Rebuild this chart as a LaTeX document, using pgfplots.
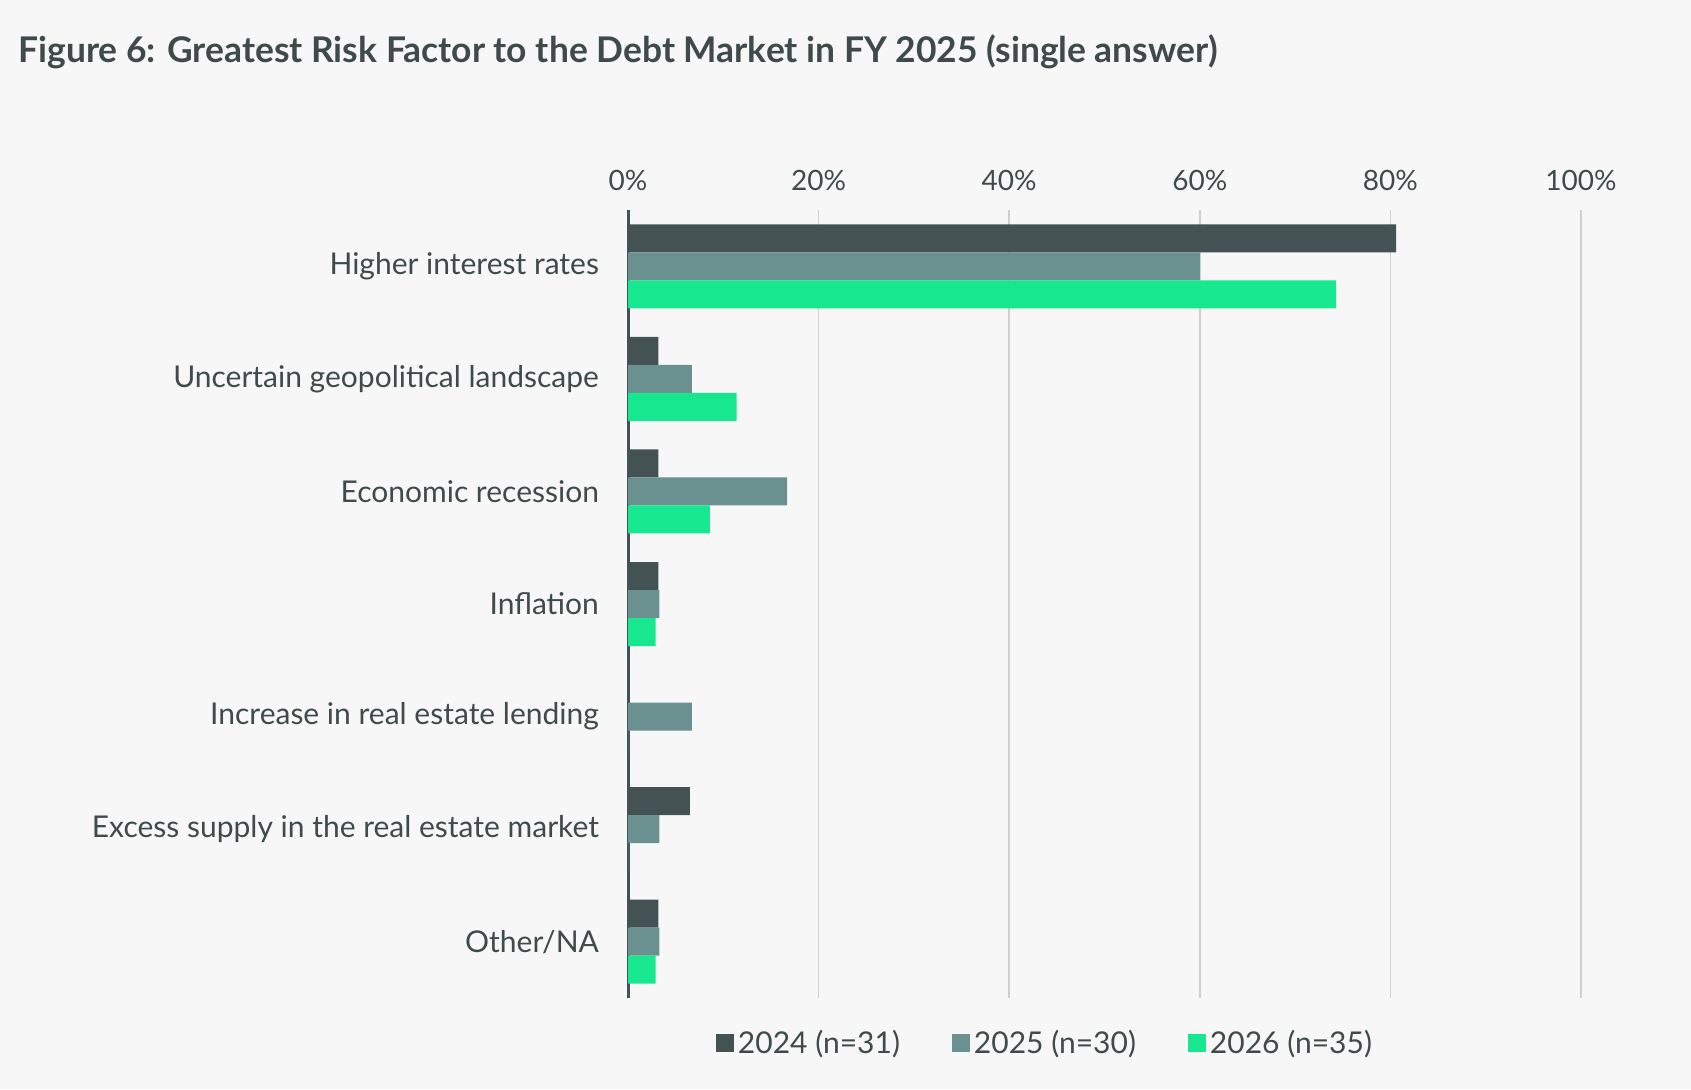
\documentclass[border=0pt]{standalone}
\usepackage{fontspec}
\setmainfont{Lato}
\usepackage{pgfplots}
\pgfplotsset{compat=1.18}
\definecolor{bg}{HTML}{F7F7F7}
\definecolor{txt}{HTML}{3F4B4B}
\definecolor{cA}{HTML}{435353}
\definecolor{cB}{HTML}{6A9090}
\definecolor{cC}{HTML}{17E88F}
\definecolor{gridc}{HTML}{CFCFCF}
\begin{document}
\begin{tikzpicture}
\fill[bg] (0,0) rectangle (845.5pt,544.5pt);
\path[use as bounding box] (0,0) rectangle (845.5pt,544.5pt);
\node[anchor=base west, font=\bfseries\fontsize{17.7}{21}\selectfont, text=txt, inner sep=0] at (9pt,513pt) {Figure 6: Greatest Risk Factor to the Debt Market in FY 2025 (single answer)};
\begin{axis}[
  at={(314pt,45.5pt)}, anchor=south west,
  scale only axis, width=476.5pt, height=394pt,
  xbar, bar width=14pt,
  xmin=0, xmax=100, ymin=-0.5, ymax=6.5,
  axis y line*=left, axis x line*=top,
  axis line style={-},
  x axis line style={draw=none},
  y axis line style={draw=cA, line width=1.5pt},
  xmajorgrids, grid style={draw=gridc, line width=0.8pt},
  major tick length=0pt,
  xtick={0,20,40,60,80,100},
  xticklabel={\pgfmathprintnumber{\tick}\%},
  xticklabel style={yshift=6pt, font=\fontsize{14}{16}\selectfont},
  /pgf/number format/assume math mode=true,
  ytick={0,1,2,3,4,5,6},
  yticklabels={Other/NA, Excess supply in the real estate market, Increase in real estate lending, Inflation\ , Economic recession, Uncertain geopolitical landscape, Higher interest rates},
  yticklabel style={xshift=-11pt, font=\fontsize{15}{17}\selectfont},
  tick label style={text=txt},
  legend style={at={(0.4386,-0.057)}, anchor=center, legend columns=3, draw=none, fill=none,
    font=\fontsize{15}{17}\selectfont, text=txt,
    /tikz/every even column/.append style={column sep=24pt}},
  legend image code/.code={\fill[#1] (0pt,-4.5pt) rectangle (9pt,4.5pt);},
]
\addplot[fill=cA, draw=none, bar shift=14pt] coordinates {(80.6,6) (3.2,5) (3.2,4) (3.2,3) (0,2) (6.5,1) (3.2,0)};
\addplot[fill=cB, draw=none, bar shift=0pt] coordinates {(60,6) (6.7,5) (16.7,4) (3.3,3) (6.7,2) (3.3,1) (3.3,0)};
\addplot[fill=cC, draw=none, bar shift=-14pt] coordinates {(74.3,6) (11.4,5) (8.6,4) (2.9,3) (0,2) (0,1) (2.9,0)};
\legend{2024 (n=31), 2025 (n=30), 2026 (n=35)}
\end{axis}
\end{tikzpicture}
\end{document}
